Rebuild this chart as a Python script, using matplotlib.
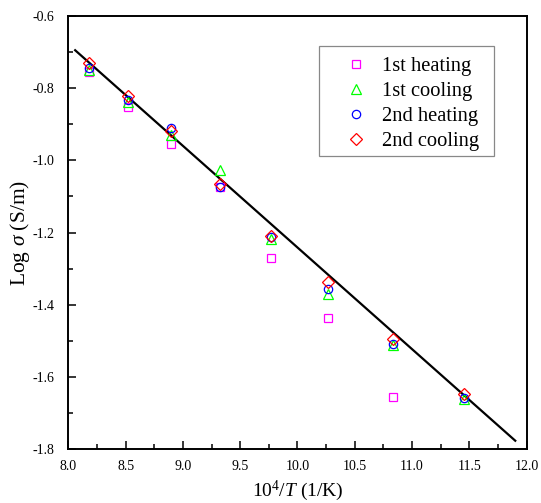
import numpy as np
import matplotlib.pyplot as plt
from matplotlib.patches import Rectangle
from matplotlib.ticker import MultipleLocator, FormatStrFormatter

plt.rcParams['font.family'] = ['Liberation Serif', 'DejaVu Serif']
plt.rcParams['mathtext.fontset'] = 'custom'
plt.rcParams['mathtext.rm'] = 'Liberation Serif'
plt.rcParams['mathtext.it'] = 'Liberation Serif:italic'

# datos (x = 10^4/T)
x = [8.18, 8.52, 8.90, 9.32, 9.77, 10.27, 10.83, 11.45]
heat1 = [-0.757, -0.852, -0.955, -1.075, -1.271, -1.437, -1.656]
cool1 = [-0.750, -0.838, -0.930, -1.027, -1.219, -1.370, -1.511, -1.660]
heat2 = [-0.746, -0.833, -0.912, -1.073, -1.213, -1.357, -1.509, -1.659]
cool2 = [-0.730, -0.822, -0.918, -1.067, -1.210, -1.338, -1.495, -1.647]

# ajuste lineal
fit_x = [8.06, 11.90]
pendiente = -0.2814
ordenada = 1.5725

fig = plt.figure(figsize=(5.41, 5.03), dpi=100)
ax = fig.add_axes([0.1262, 0.1067, 0.8474, 0.8621])

fx = np.array(fit_x)
ax.plot(fx, pendiente * fx + ordenada, color='black', lw=1.6, zorder=1)

kw = dict(ls='none', mfc='none', mew=0.9, zorder=2)
ax.plot(x[:len(heat1)], heat1, 's', mec='#FF00FF', ms=6, label='1st heating', **kw)
ax.plot(x, cool1, '^', mec='#00FF00', ms=7, label='1st cooling', **kw)
ax.plot(x, heat2, 'o', mec='#0000FF', ms=6, label='2nd heating', **kw)
ax.plot(x, cool2, 'D', mec='#FF0000', ms=6, label='2nd cooling', **kw)

ax.set_xlim(8.0, 12.0)
ax.set_ylim(-1.8, -0.6)
ax.xaxis.set_major_locator(MultipleLocator(0.5))
ax.xaxis.set_minor_locator(MultipleLocator(0.25))
ax.yaxis.set_major_locator(MultipleLocator(0.2))
ax.yaxis.set_minor_locator(MultipleLocator(0.1))
ax.xaxis.set_major_formatter(FormatStrFormatter('%.1f'))
ax.yaxis.set_major_formatter(FormatStrFormatter('%.1f'))
ax.tick_params(which='both', direction='in', top=False, right=False,
               labelsize=10, width=1.1)
ax.tick_params(axis='x', pad=8)
ax.tick_params(axis='y', pad=10)
ax.tick_params(which='major', length=6)
ax.tick_params(which='minor', length=3.6)
for s in ax.spines.values():
    s.set_linewidth(1.4)

ax.set_xlabel('10$^4$/$T$ (1/K)', fontsize=14, labelpad=4)
ax.set_ylabel('Log $\\sigma$ (S/m)', fontsize=15.5)
ax.yaxis.set_label_coords(-0.079, 0.5)

# marco de la leyenda
ax.add_patch(Rectangle((0.547, 0.676), 0.382, 0.254, transform=ax.transAxes,
                       fill=False, edgecolor='#888888', lw=0.9, zorder=3))
leg = ax.legend(loc='upper left', bbox_to_anchor=(0.600, 0.905), fontsize=14.8,
                frameon=False, handlelength=1.2, handletextpad=0.66,
                borderpad=0, borderaxespad=0, labelspacing=0.27)

fig.savefig('out.png', dpi=100)
